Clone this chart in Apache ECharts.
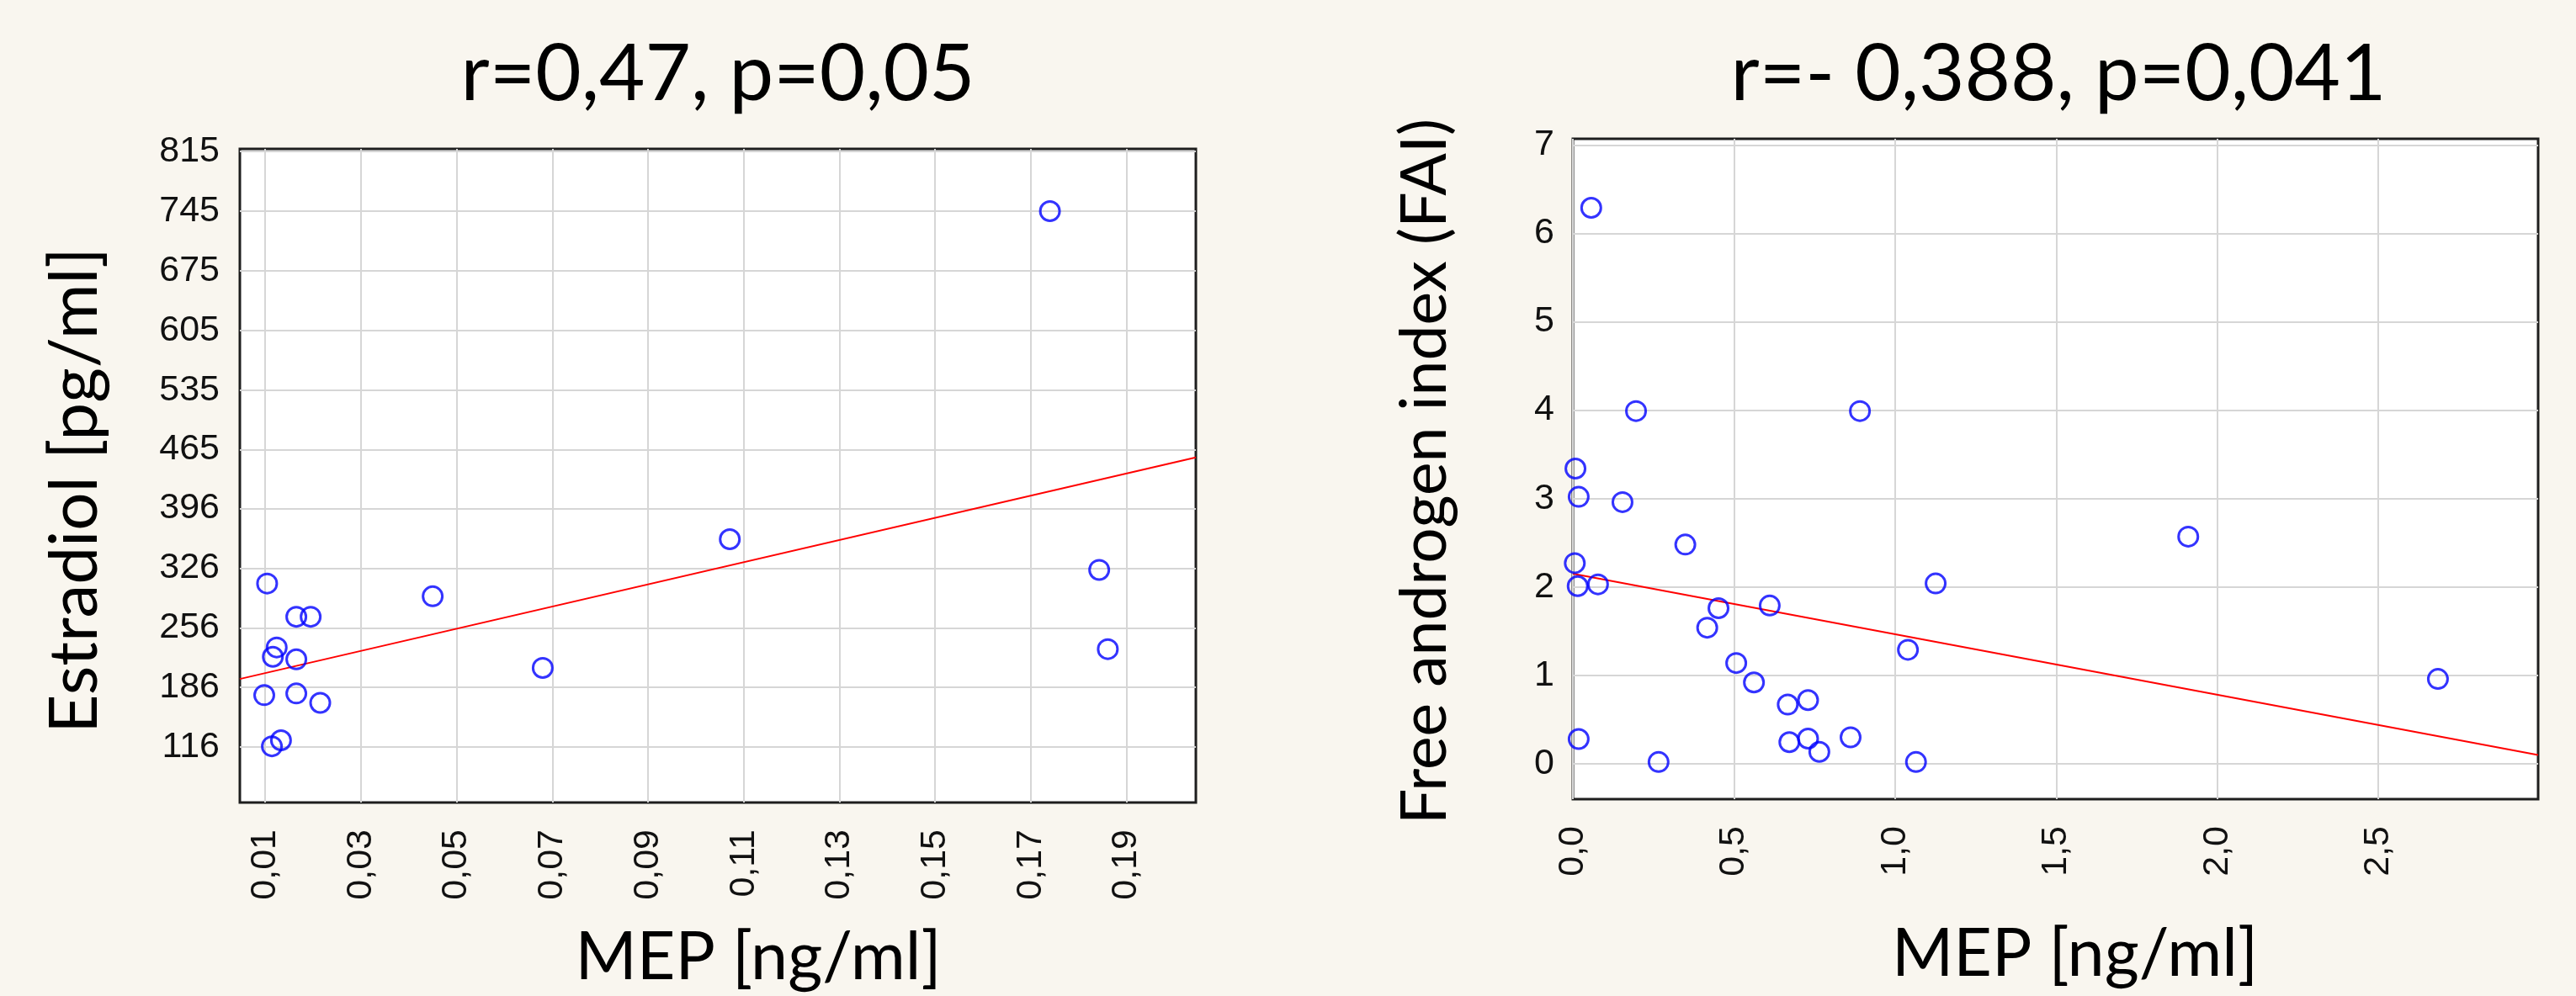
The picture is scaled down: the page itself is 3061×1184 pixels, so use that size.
<!DOCTYPE html>
<html>
<head>
<meta charset="utf-8">
<title>MEP correlations</title>
<script src="https://cdn.jsdelivr.net/npm/echarts@6.0.0/dist/echarts.min.js"></script>
<style>
  html, body { margin: 0; padding: 0; background: #f9f6ef; }
  #chart { width: 3061px; height: 1184px; }
</style>
</head>
<body>
<div id="chart"></div>
<script>
// left panel: MEP vs estradiol
var estradiolMep = [0.0104, 0.0165, 0.0195, 0.0124, 0.0116, 0.0165, 0.0098, 0.0165, 0.0215,
  0.0133, 0.0114, 0.045, 0.068, 0.1071, 0.174, 0.1843, 0.1861];
var estradiolVal = [308, 269, 269, 233, 222, 219, 177, 179, 168,
  124, 117, 293, 209, 360, 745, 324, 231];
var estradiolFitX = [0.0047, 0.2045];
var estradiolFitY = [196, 456];
var estradiolXTicks = [0.01, 0.03, 0.05, 0.07, 0.09, 0.11, 0.13, 0.15, 0.17, 0.19];
var estradiolYTicks = [116, 186, 256, 326, 396, 465, 535, 605, 675, 745, 815];

// right panel: MEP vs free androgen index
var faiMep = [0.057, 0.196, 0.891, 0.008, 0.018, 0.154, 0.349, 0.006, 0.015, 0.078,
  0.452, 0.611, 0.417, 1.126, 1.04, 0.507, 0.562, 0.667, 0.73, 0.018,
  0.266, 0.672, 0.73, 0.765, 0.862, 1.065, 1.91, 2.685];
var faiVal = [6.29, 3.99, 3.99, 3.34, 3.02, 2.96, 2.48, 2.27, 2.01, 2.03,
  1.76, 1.79, 1.54, 2.04, 1.29, 1.14, 0.92, 0.67, 0.72, 0.28,
  0.02, 0.245, 0.285, 0.135, 0.3, 0.02, 2.57, 0.96];
var faiFitX = [0, 2.996];
var faiFitY = [2.15, 0.10];
var faiXTicks = [0, 0.5, 1, 1.5, 2, 2.5];
var faiYTicks = [0, 1, 2, 3, 4, 5, 6, 7];

var tickFont = '"Liberation Sans", Arial, sans-serif';
var textFont = 'Lato, sans-serif';

function pairs(xs, ys) {
  return xs.map(function (x, i) { return [x, ys[i]]; });
}
function comma(digits) {
  return function (v) { return v.toFixed(digits).replace('.', ','); };
}

var tickLabel = { fontFamily: tickFont, fontSize: 43, color: '#111' };
var gridLines = { show: true, lineStyle: { color: '#d6d6d6', width: 2 } };
var titleStyle = { fontFamily: textFont, fontSize: 94, fontWeight: 'normal', color: '#000' };

function nameStyle(size, padding) {
  return { fontFamily: textFont, fontSize: size, color: '#000', padding: padding };
}

function dots(idx, xs, ys) {
  return {
    type: 'scatter',
    xAxisIndex: idx,
    yAxisIndex: idx,
    data: pairs(xs, ys),
    symbol: 'circle',
    symbolSize: 23,
    itemStyle: { color: 'rgba(0,0,0,0)', borderColor: '#0000ff', borderWidth: 3 },
    z: 3
  };
}
function fit(idx, xs, ys) {
  return {
    type: 'line',
    xAxisIndex: idx,
    yAxisIndex: idx,
    data: pairs(xs, ys),
    showSymbol: false,
    symbol: 'none',
    lineStyle: { color: '#ff0000', width: 2 },
    z: 2
  };
}

var chart = echarts.init(document.getElementById('chart'));
chart.setOption({
  backgroundColor: '#f9f6ef',
  animation: false,
  title: [
    { text: 'r=0,47, p=0,05', left: 853, top: 89, padding: 0, textAlign: 'center',
      textVerticalAlign: 'middle', textStyle: titleStyle },
    { text: 'r=- 0,388, p=0,041', left: 2446, top: 89, padding: 0, textAlign: 'center',
      textVerticalAlign: 'middle', textStyle: titleStyle }
  ],
  grid: [
    { left: 285, top: 177, width: 1136, height: 777, show: true, backgroundColor: '#fff',
      borderColor: '#1e1e1e', borderWidth: 3, outerBoundsMode: 'none' },
    { left: 1869, top: 165, width: 1147, height: 785, show: true, backgroundColor: '#fff',
      borderColor: '#1e1e1e', borderWidth: 3, outerBoundsMode: 'none' }
  ],
  xAxis: [
    {
      gridIndex: 0, type: 'value', min: 0.0047, max: 0.2045,
      name: 'MEP [ng/ml]', nameLocation: 'middle', nameGap: 145,
      nameTextStyle: nameStyle(79, [0, 0, 0, 96]),
      axisLine: { show: false },
      axisTick: { show: false, customValues: estradiolXTicks },
      axisLabel: Object.assign({ customValues: estradiolXTicks, rotate: 90, margin: 32,
        formatter: comma(2) }, tickLabel),
      splitLine: gridLines
    },
    {
      gridIndex: 1, type: 'value', min: 0, max: 2.996,
      name: 'MEP [ng/ml]', nameLocation: 'middle', nameGap: 145,
      nameTextStyle: nameStyle(79, [0, 0, 0, 46]),
      axisLine: { show: false },
      axisTick: { show: false, customValues: faiXTicks },
      axisLabel: Object.assign({ customValues: faiXTicks, rotate: 90, margin: 32,
        formatter: comma(1) }, tickLabel),
      splitLine: gridLines
    }
  ],
  yAxis: [
    {
      gridIndex: 0, type: 'value', min: 51, max: 818,
      name: 'Estradiol [pg/ml]', nameLocation: 'middle', nameGap: 156,
      nameTextStyle: nameStyle(80, [0, 35, 0, 0]),
      axisLine: { show: false },
      axisTick: { show: false, customValues: estradiolYTicks },
      axisLabel: Object.assign({ customValues: estradiolYTicks, margin: 24 }, tickLabel),
      splitLine: gridLines
    },
    {
      gridIndex: 1, type: 'value', min: -0.4, max: 7.07,
      name: 'Free androgen index (FAI)', nameLocation: 'middle', nameGap: 138,
      nameTextStyle: nameStyle(75, [0, 6, 0, 0]),
      axisLine: { show: false },
      axisTick: { show: false, customValues: faiYTicks },
      axisLabel: Object.assign({ customValues: faiYTicks, margin: 22 }, tickLabel),
      splitLine: gridLines
    }
  ],
  series: [
    fit(0, estradiolFitX, estradiolFitY),
    dots(0, estradiolMep, estradiolVal),
    fit(1, faiFitX, faiFitY),
    dots(1, faiMep, faiVal)
  ]
});
</script>
</body>
</html>
